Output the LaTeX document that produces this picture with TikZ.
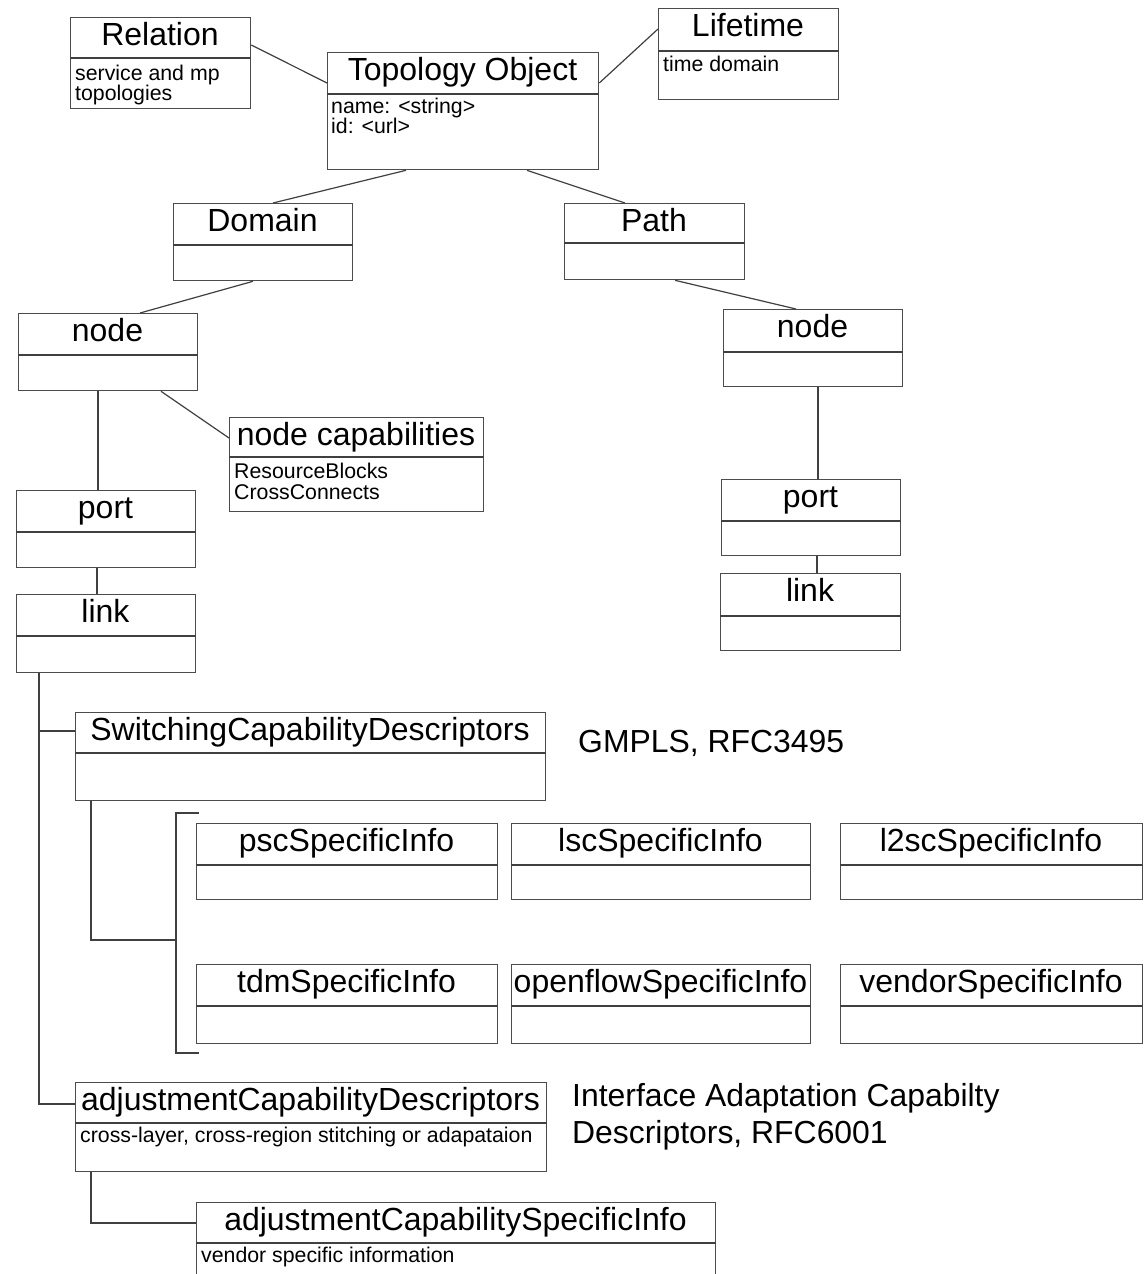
\documentclass[tikz,border=0pt]{standalone}
\usepackage{fontspec}
\setmainfont{Liberation Sans}
\usetikzlibrary{calc}

\tikzset{
  boxframe/.style={draw=black!70, line width=1.3pt, fill=white, inner sep=0pt, rectangle},
  divline/.style={draw=black!75, line width=1.3pt},
  titletext/.style={anchor=base, inner sep=0pt, font=\fontsize{32}{36}\selectfont},
  bodytext/.style={anchor=base west, inner sep=0pt, font=\fontsize{21.3}{21}\selectfont},
  notetext/.style={anchor=base west, inner sep=0pt, font=\fontsize{31.9}{37.5}\selectfont},
  conn/.style={draw=black!75, line width=1.2pt},
}

% \umlbox{name}{left}{top}{right}{divider}{bottom}{title}
\newcommand\umlbox[7]{%
  \node[boxframe, anchor=north west, minimum width={#4pt-#2pt}, minimum height={#6pt-#3pt}] (#1) at (#2,#3) {};
  \draw[divline] (#1.west |- 0,#5) -- (#1.east |- 0,#5);
  \node[titletext] (#1-title) at ({(#2+#4)/2},{#3+28.5}) {#7};
}

\begin{document}
\begin{tikzpicture}[x=1pt, y=-1pt]
  \clip (0,0) rectangle (1148,1274);
  \fill[white] (0,0) rectangle (1148,1274);

  % top level
  \umlbox{rel}{70}{17}{250}{58}{108}{Relation}
  \node[bodytext] (rel-body1) at (75,80) {service and mp};
  \node[bodytext] (rel-body2) at (75,100) {topologies};
  \umlbox{topo}{327}{52}{598}{94}{169}{Topology Object}
  \node[bodytext] (topo-body1) at (331,113) {name: <string>};
  \node[bodytext] (topo-body2) at (331,133) {id: <url>};
  \umlbox{life}{658}{8}{838}{51}{99}{Lifetime}
  \node[bodytext] (life-body) at (663,71) {time domain};

  % second level
  \umlbox{dom}{173}{203}{352}{245}{280}{Domain}
  \umlbox{path}{564}{203}{744}{243}{279}{Path}

  % domain branch
  \umlbox{nodeL}{18}{313}{197}{355}{390}{node}
  \umlbox{ncap}{229}{417}{483}{457}{511}{node capabilities}
  \node[bodytext] (ncap-body1) at (234,478) {ResourceBlocks};
  \node[bodytext] (ncap-body2) at (234,499) {CrossConnects};
  \umlbox{portL}{16}{490}{195}{532}{567}{port}
  \umlbox{linkL}{16}{594}{195}{636}{672}{link}

  % path branch
  \umlbox{nodeR}{723}{309}{902}{352}{386}{node}
  \umlbox{portR}{721}{479}{900}{521}{555}{port}
  \umlbox{linkR}{720}{573}{900}{616}{650}{link}

  % link descriptors
  \umlbox{scd}{75}{712}{545}{753}{800}{SwitchingCapabilityDescriptors}
  \node[notetext] (gmpls) at (578,752) {GMPLS, RFC3495};

  \umlbox{psc}{196}{823}{497}{865}{899}{pscSpecificInfo}
  \umlbox{lsc}{511}{823}{810}{865}{899}{lscSpecificInfo}
  \umlbox{ltwo}{840}{823}{1142}{865}{899}{l2scSpecificInfo}
  \umlbox{tdm}{196}{964}{497}{1006}{1043}{tdmSpecificInfo}
  \umlbox{ofl}{511}{964}{810}{1006}{1043}{openflowSpecificInfo}
  \umlbox{vend}{840}{964}{1142}{1006}{1043}{vendorSpecificInfo}

  \umlbox{acd}{75}{1082}{546}{1123}{1171}{adjustmentCapabilityDescriptors}
  \node[bodytext] (acd-body) at (80,1142) {cross-layer, cross-region stitching or adapataion};
  \node[notetext] (iacd1) at (572,1106) {Interface Adaptation Capabilty};
  \node[notetext] (iacd2) at (572,1143) {Descriptors, RFC6001};

  \umlbox{asi}{196}{1202}{715}{1243}{1300}{adjustmentCapabilitySpecificInfo}
  \node[bodytext] (asi-body) at (201,1262) {vendor specific information};

  % bracket grouping the specific-info boxes
  \coordinate (brtop) at (199,813);
  \coordinate (brmid) at (176,940);
  \coordinate (brbot) at (199,1053);
  \draw[conn] (brtop) -- (brtop -| brmid) -- (brbot -| brmid) -- (brbot);

  % connectors
  \draw[conn] ($(rel.north east)+(0,28)$) -- ($(topo.north west)+(0,31)$);
  \draw[conn] ($(topo.north east)+(0,31)$) -- ($(life.north west)+(0,21)$);
  \draw[conn] ($(topo.south west)+(79,0)$) -- ($(dom.north west)+(100,0)$);
  \draw[conn] ($(topo.south west)+(200,0)$) -- ($(path.north west)+(61,0)$);
  \draw[conn] ($(dom.south west)+(80,0)$) -- ($(nodeL.north west)+(122,0)$);
  \draw[conn] ($(nodeL.south west)+(143,0)$) -- ($(ncap.north west)+(0,21)$);
  \draw[conn] ($(nodeL.south west)+(80,0)$) -- ($(portL.north west)+(82,0)$);
  \draw[conn] ($(portL.south west)+(81,0)$) -- ($(linkL.north west)+(81,0)$);
  \draw[conn] ($(path.south west)+(111,0)$) -- ($(nodeR.north west)+(73,0)$);
  \draw[conn] ($(nodeR.south west)+(95,0)$) -- ($(portR.north west)+(97,0)$);
  \draw[conn] ($(portR.south west)+(96,0)$) -- ($(linkR.north west)+(97,0)$);

  \coordinate (lkdown) at ($(linkL.south west)+(23,0)$);
  \coordinate (scdin) at ($(scd.north west)+(0,19)$);
  \coordinate (acdin) at ($(acd.north west)+(0,22)$);
  \draw[conn] (lkdown) |- (acdin);
  \draw[conn] (lkdown |- scdin) -- (scdin);
  \draw[conn] ($(scd.south west)+(16,0)$) |- (brmid);
  \draw[conn] ($(acd.south west)+(16,0)$) |- ($(asi.north west)+(0,21)$);
\end{tikzpicture}
\end{document}
